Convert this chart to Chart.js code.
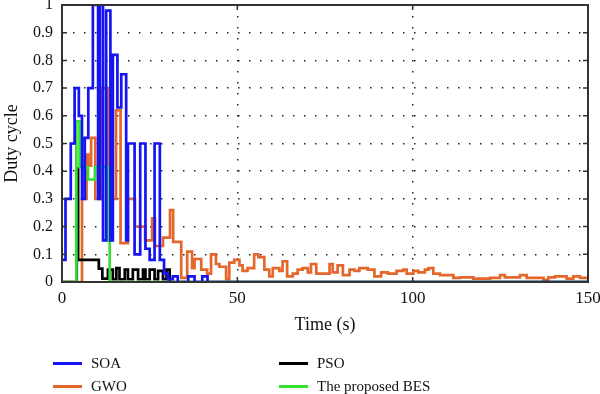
<!DOCTYPE html>
<html>
<head>
<meta charset="utf-8">
<script src="https://cdn.jsdelivr.net/npm/chart.js@4"></script>
<style>
  html, body { margin: 0; padding: 0; background: #fff; }
  #wrap { position: relative; width: 600px; height: 394px; }
  .leg { position: absolute; font-family: "Liberation Serif", "DejaVu Serif", serif; font-size: 15px; color: #111; line-height: 18px; }
  .leg i { position: absolute; left: 0; top: 8px; width: 29px; height: 3px; }
  .leg span { position: absolute; left: 38px; top: 0; white-space: nowrap; }
</style>
</head>
<body>
<div id="wrap">
  <canvas id="grafico" width="600" height="394"></canvas>
  <div class="leg" style="left:53px; top:354px;"><i style="background:#1414f5"></i><span>SOA</span></div>
  <div class="leg" style="left:53px; top:377px;"><i style="background:#e4672b"></i><span>GWO</span></div>
  <div class="leg" style="left:279px; top:354px;"><i style="background:#000"></i><span>PSO</span></div>
  <div class="leg" style="left:279px; top:377px;"><i style="background:#33e033"></i><span>The proposed BES</span></div>
</div>
<script>
// Datos: tiempo de inicio de cada escalón (s) y su valor de ciclo de trabajo
const soaT = [0, 1, 2.5, 3.6, 4.8, 5.7, 6.5, 7.5, 8.8, 10.3, 10.8, 11.7, 12.6, 13.8, 14.5, 15.8, 16.9, 18.3, 18.8, 20.7, 22.3, 23.8, 25, 26.4, 27.9, 29.1, 30.2, 31.6, 33, 36, 37.8, 40, 41.5, 150];
const soaV = [0.08, 0.3, 0.5, 0.7, 0.6, 0.3, 0.52, 0.7, 1, 0.3, 1, 0.15, 0.98, 0.15, 0.82, 0.63, 0.75, 0.15, 0.5, 0.1, 0.5, 0.12, 0.08, 0.5, 0.08, 0.03, 0.01, 0.02, 0, 0.02, 0, 0.02, 0, 0];

const gwoT = [0, 5.7, 7, 7.5, 8.3, 9.5, 11.2, 13, 14, 15.4, 16.7, 18.8, 20.8, 23.7, 25.7, 26.5, 28.8, 30.8, 31.7, 34.0, 35.7, 37.1, 37.8, 39.7, 41.4, 42.5, 43.9, 44.9, 46.8, 47.7, 49.1, 50.6, 51.5, 52.9, 54.8, 56.0, 57.7, 59.1, 60.1, 62.0, 62.9, 64.2, 65.8, 67.2, 68.6, 70.1, 71.0, 72.5, 76.3, 77.2, 78.6, 80.1, 82.0, 83.4, 84.8, 87.2, 89.1, 91.0, 92.9, 95.4, 97.3, 98.3, 100.2, 101.6, 103.5, 104.5, 105.9, 107.8, 111.6, 113.5, 117.3, 122.1, 124.9, 126.3, 130.6, 132.5, 137.3, 138.7, 140.6, 143.9, 145.8, 147.7, 150];
const gwoV = [0, 0.3, 0.46, 0.42, 0.52, 0.3, 0.7, 0.15, 0.3, 0.62, 0.14, 0.3, 0.2, 0.15, 0.23, 0.13, 0.16, 0.26, 0.145, 0.015, 0.11, 0.05, 0.083, 0.045, 0.03, 0.1, 0.065, 0.055, 0.01, 0.07, 0.08, 0.06, 0.04, 0.05, 0.1, 0.09, 0.045, 0.02, 0.05, 0.04, 0.075, 0.02, 0.03, 0.045, 0.05, 0.035, 0.065, 0.03, 0.065, 0.035, 0.06, 0.025, 0.045, 0.04, 0.05, 0.045, 0.02, 0.035, 0.03, 0.04, 0.045, 0.03, 0.04, 0.035, 0.045, 0.05, 0.03, 0.025, 0.015, 0.017, 0.012, 0.015, 0.025, 0.017, 0.025, 0.015, 0.008, 0.017, 0.02, 0.012, 0.02, 0.015, 0.015];

const psoT = [0, 4.2, 4.6, 10.5, 11.5, 13.1, 14.5, 15.5, 16.4, 17.9, 18.8, 20.2, 21.7, 23.1, 23.8, 25, 26.4, 27.4, 28.8, 29.8, 30.7, 150];
const psoV = [0, 0.41, 0.08, 0.048, 0.012, 0.045, 0.01, 0.05, 0.01, 0.045, 0.01, 0.045, 0.01, 0.045, 0.01, 0.045, 0.01, 0.04, 0.01, 0.045, 0, 0];

const besT = [0, 4.1, 5.0, 7.4, 9.4, 13.1, 13.6, 150];
const besV = [0, 0.58, 0.415, 0.37, 0.415, 0.15, 0, 0];

const xTicks = [0, 50, 100, 150];
const fuente = "'Liberation Serif', 'DejaVu Serif', serif";

// cada valor v[i] se mantiene desde t[i] hasta t[i+1]
const puntos = (t, v) => {
  const p = [{ x: t[0], y: v[0] }];
  for (let i = 1; i < t.length; i++) p.push({ x: t[i], y: v[i - 1] }, { x: t[i], y: v[i] });
  return p;
};

// Marco del área de trazado con marcas de graduación hacia dentro
const marco = {
  id: 'marco',
  afterDraw(chart) {
    const { ctx, chartArea: a, scales } = chart;
    ctx.save();
    ctx.strokeStyle = '#333';
    ctx.lineWidth = 1.5;
    scales.y.ticks.forEach(t => {
      const py = scales.y.getPixelForValue(t.value);
      ctx.beginPath();
      ctx.moveTo(a.left, py); ctx.lineTo(a.left + 5, py);
      ctx.moveTo(a.right, py); ctx.lineTo(a.right - 5, py);
      ctx.stroke();
    });
    scales.x.ticks.forEach(t => {
      const px = scales.x.getPixelForValue(t.value);
      ctx.beginPath();
      ctx.moveTo(px, a.bottom); ctx.lineTo(px, a.bottom - 5);
      ctx.moveTo(px, a.top); ctx.lineTo(px, a.top + 5);
      ctx.stroke();
    });
    ctx.lineWidth = 2;
    ctx.strokeRect(a.left, a.top, a.right - a.left, a.bottom - a.top);
    ctx.restore();
  }
};

const serie = (label, t, v, color, orden) => ({
  label: label,
  data: puntos(t, v),
  borderColor: color,
  borderWidth: 2.7,
  borderJoinStyle: 'miter',
  pointRadius: 0,
  tension: 0,
  fill: false,
  order: orden
});

const gridColor = (ctx) => {
  const n = ctx.scale.ticks.length;
  return (ctx.index === 0 || ctx.index === n - 1) ? 'rgba(0,0,0,0)' : '#222';
};

new Chart(document.getElementById('grafico').getContext('2d'), {
  type: 'line',
  data: {
    datasets: [
      serie('SOA', soaT, soaV, '#1414f5', 1),
      serie('The proposed BES', besT, besV, '#33e033', 2),
      serie('PSO', psoT, psoV, '#000000', 3),
      serie('GWO', gwoT, gwoV, '#e4672b', 4)
    ]
  },
  options: {
    responsive: false,
    animation: false,
    events: [],
    layout: { padding: { top: 5, right: 12, bottom: 56, left: 0 } },
    plugins: { legend: { display: false }, tooltip: { enabled: false } },
    scales: {
      x: {
        type: 'linear',
        min: 0, max: 150,
        afterBuildTicks: (s) => { s.ticks = xTicks.map(v => ({ value: v })); },
        afterFit: (s) => { s.height = 56; s.paddingLeft = 0; s.paddingRight = 0; },
        grid: { color: gridColor, lineWidth: 1.5, drawTicks: false },
        border: { display: false, dash: [1.5, 9.5] },
        ticks: { padding: 6, color: '#111', font: { family: fuente, size: 17 } },
        title: { display: true, text: 'Time (s)', color: '#111', font: { family: fuente, size: 18 }, padding: { top: 0, bottom: 2 } }
      },
      y: {
        min: 0, max: 1,
        afterFit: (s) => { s.width = 62; s.paddingTop = 0; s.paddingBottom = 0; },
        grid: { color: gridColor, lineWidth: 1.5, drawTicks: false },
        border: { display: false, dash: [1.5, 9.5] },
        ticks: {
          stepSize: 0.1, padding: 9, color: '#111',
          font: { family: fuente, size: 16 },
          callback: (v) => String(Number(v.toFixed(1)))
        },
        title: { display: true, text: 'Duty cycle', color: '#111', font: { family: fuente, size: 18 }, padding: { top: 1, bottom: 0 } }
      }
    }
  },
  plugins: [marco]
});
</script>
</body>
</html>
